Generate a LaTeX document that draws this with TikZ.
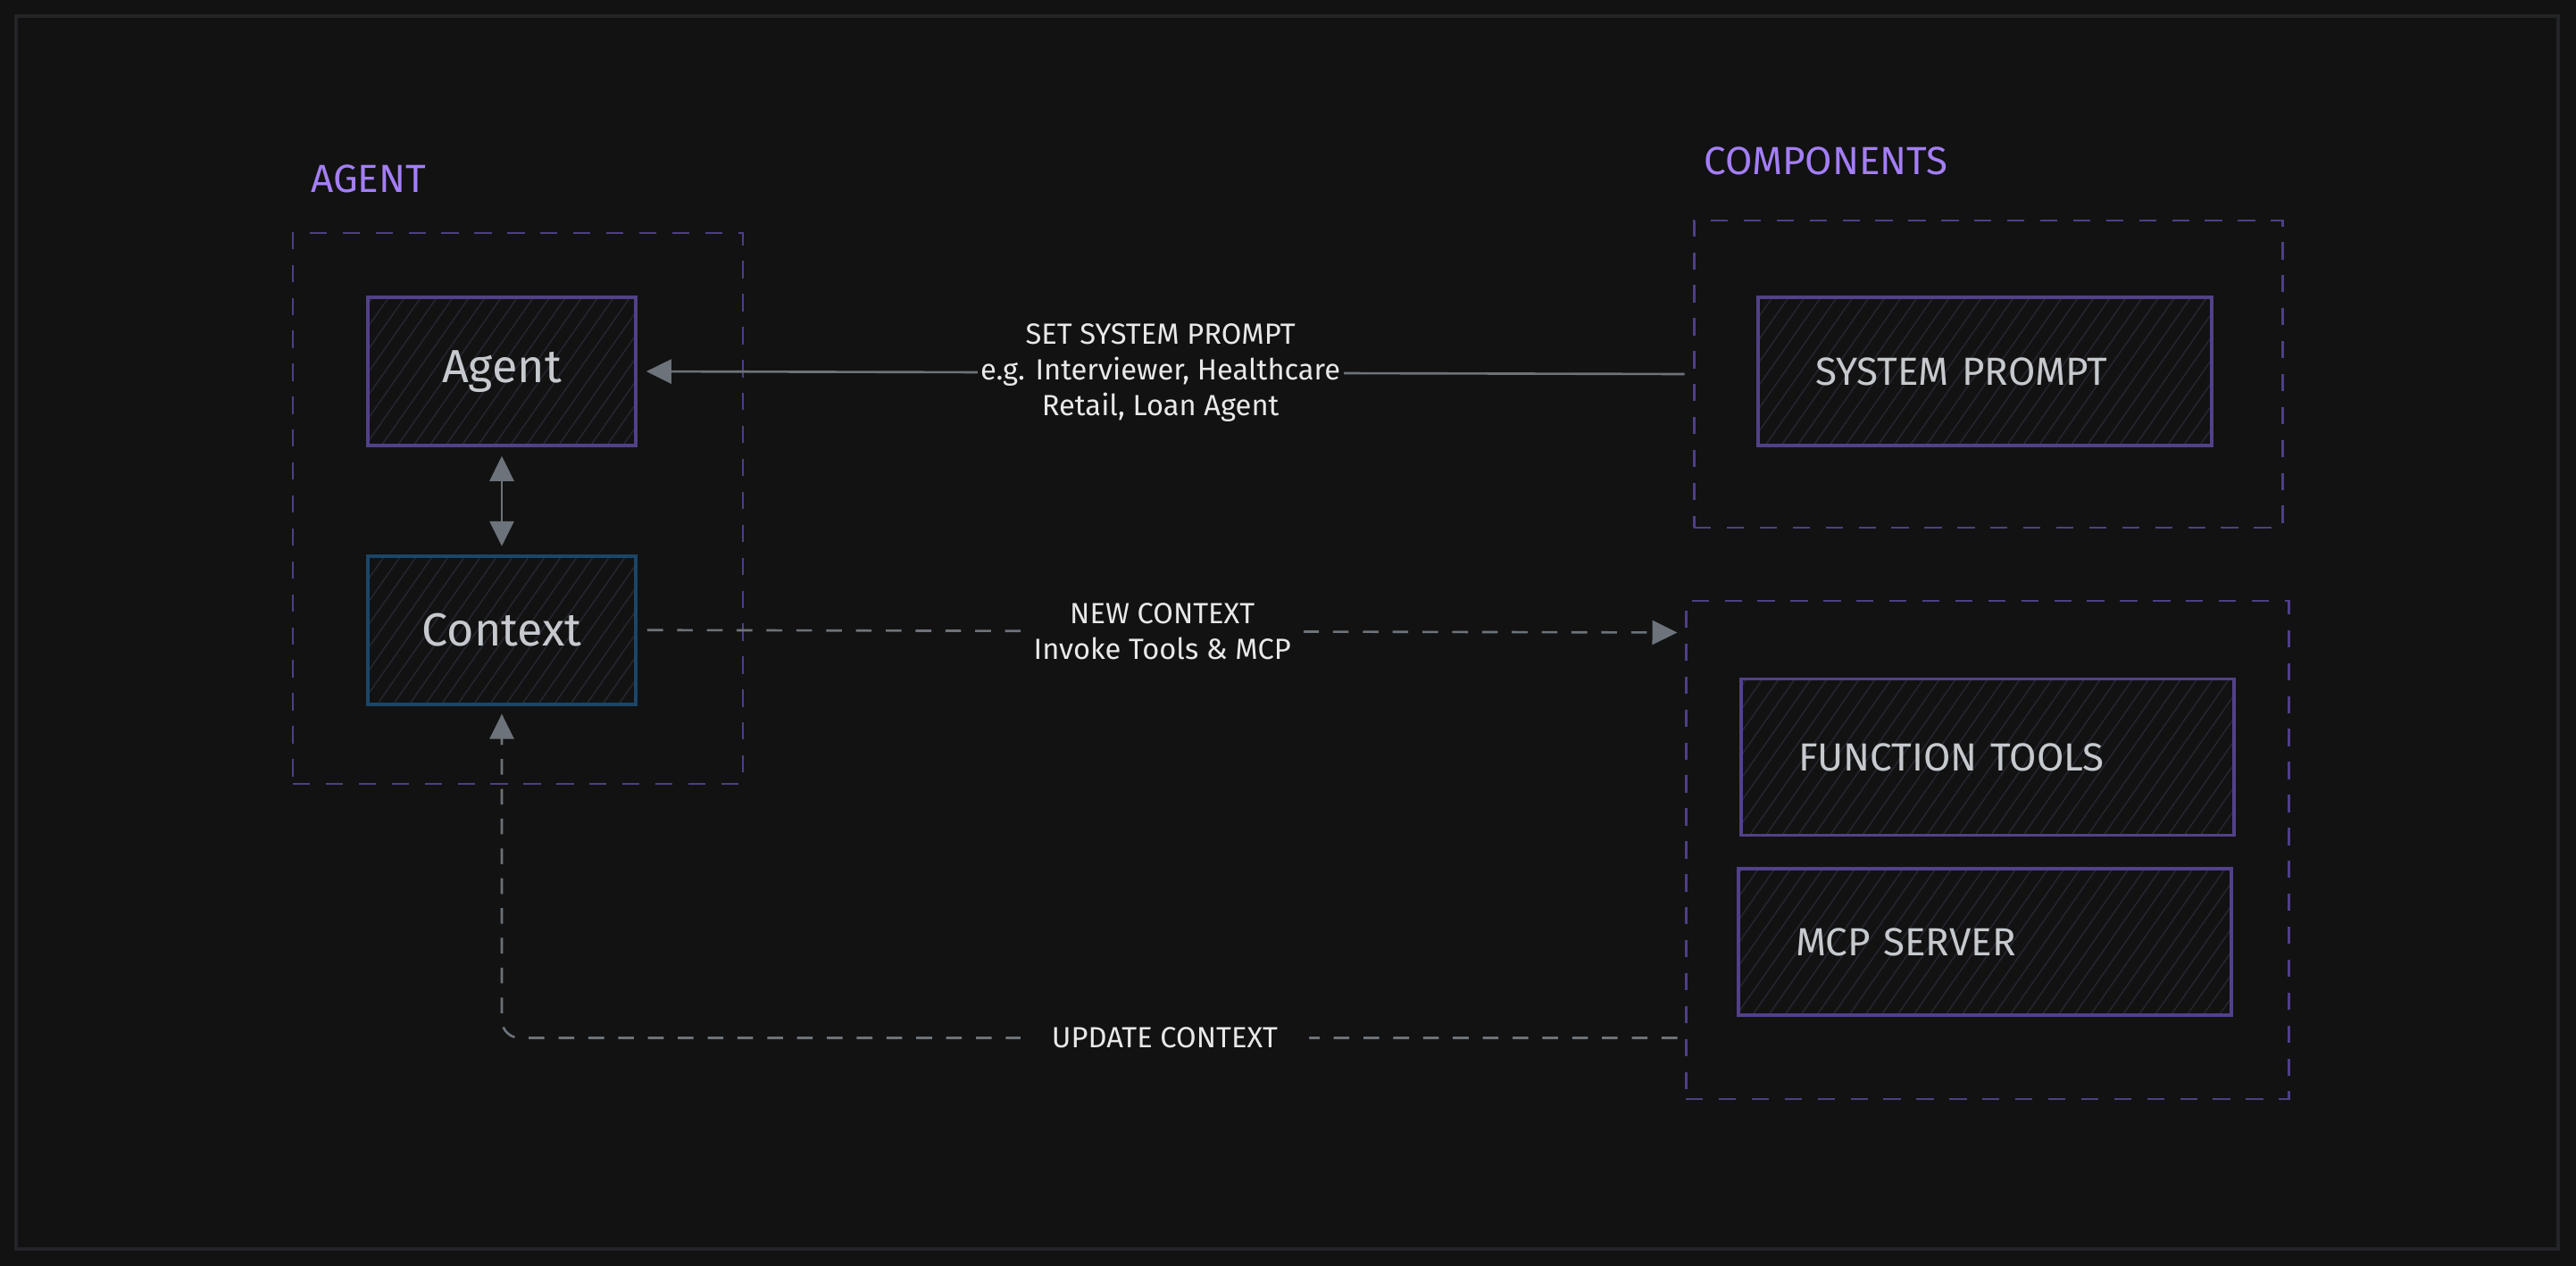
\documentclass[tikz,border=0pt]{standalone}
\usepackage{fontspec}
\setmainfont{Fira Sans}
\usetikzlibrary{
	positioning,
	arrows.meta,
	patterns.meta
}

\definecolor{bgdark}{HTML}{121212}
\definecolor{framegray}{HTML}{232427}
\definecolor{grouppurple}{HTML}{4E3F86}
\definecolor{boxpurple}{HTML}{52418A}
\definecolor{boxblue}{HTML}{1B4668}
\definecolor{hatchgray}{HTML}{25252F}
\definecolor{boxtext}{HTML}{C6C9CD}
\definecolor{linktext}{HTML}{E8E8E8}
\definecolor{titlepurple}{HTML}{A47EF6}
\definecolor{linkgray}{HTML}{6C737A}

\begin{document}
\begin{tikzpicture}[
	node distance =0mm,
	group/.style = {
		rectangle,
		draw=grouppurple,
		line width=0.85pt,
		dash pattern=on 5.5pt off 5pt
	},
	grouptitle/.style = {
		anchor=west,
		text=titlepurple,
		font=\fontsize{12.5}{15}\selectfont
	},
	block/.style = {
		rectangle,
		draw=boxpurple,
		line width=1.1pt,
		pattern={Lines[angle=55,distance=4.2pt,line width=0.45pt]},
		pattern color=hatchgray,
		text=boxtext,
		minimum height=1.66cm
	},
	agentbox/.style = {
		block,
		minimum width=3cm,
		font=\fontsize{14.8}{18}\selectfont
	},
	compbox/.style = {
		block,
		align=left,
		inner xsep=0.64cm,
		font=\fontsize{12.5}{15}\selectfont
	},
	link/.style = {
		draw=linkgray,
		line width=0.75pt,
		-{Triangle[length=0.28cm,width=0.27cm]}
	},
	dlink/.style = {
		link,
		dash pattern=on 5pt off 4.5pt
	},
	linklabel/.style = {
		fill=bgdark,
		text=linktext,
		align=center,
		inner xsep=1pt,
		font=\fontsize{9.3}{11.4}\selectfont
	},
]
	% background and frame
	\fill[bgdark] (0,0) rectangle (28.85,-14.18);
	\useasboundingbox (0,0) rectangle (28.85,-14.18);
	\draw[framegray, line width=1.1pt] (0.18,-0.18) rectangle (28.65,-13.99);

	% agent side
	\node (agentgrp) [group, minimum width=5.04cm, minimum height=6.17cm] at (5.80,-5.695) {};
	\node (agenttitle) [grouptitle] at (3.36,-2.00) {AGENT};

	\node (agent) [agentbox] at (5.62,-4.16) {Agent};
	\node (context) [agentbox, draw=boxblue, below=1.21cm of agent] {Context};

	\draw[link, {Triangle[length=0.28cm,width=0.27cm]}-{Triangle[length=0.28cm,width=0.27cm]},
		shorten <=0.11cm, shorten >=0.09cm] (agent) -- (context);

	% components side
	\node (compgrp1) [group, minimum width=6.59cm, minimum height=3.44cm] at (22.265,-4.19) {};
	\node (comptitle) [grouptitle] at (18.96,-1.80) {COMPONENTS};
	\node (sysprompt) [compbox, text width=3.80cm] at (22.23,-4.16) {SYSTEM PROMPT};

	\node (compgrp2) [group, minimum width=6.75cm, minimum height=5.58cm] at (22.255,-9.52) {};
	\node (functools) [compbox, text width=4.24cm, minimum height=1.75cm] at (22.26,-8.48) {FUNCTION TOOLS};
	\node (mcpserver) [compbox, text width=4.24cm, minimum height=1.64cm] at (22.23,-10.55) {MCP SERVER};

	\coordinate (newin) at ([shift={(-0.08,-0.37)}]compgrp2.north west);
	\coordinate (updout) at ([shift={(-0.08,0.70)}]compgrp2.south west);

	% connectors
	\draw[link, shorten >=0.11cm] ([xshift=-0.09cm]compgrp1.west) --
		node[linklabel] {SET SYSTEM PROMPT\\e.g. Interviewer, Healthcare\\Retail, Loan Agent} (agent.east);
	\draw[dlink] ([xshift=0.11cm]context.east) --
		node[linklabel, inner xsep=4pt] {NEW CONTEXT\\Invoke Tools \& MCP} (newin);
	\draw[dlink, rounded corners=0.2cm, shorten >=0.09cm] (updout) -|
		node[linklabel, pos=0.218, inner xsep=0.35cm] {UPDATE CONTEXT} (context.south);
\end{tikzpicture}
\end{document}
